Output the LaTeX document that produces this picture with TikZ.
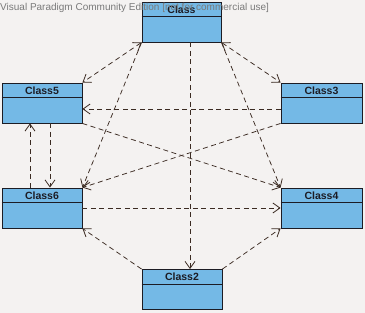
\documentclass[tikz,border=0pt]{standalone}
\usepackage{fontspec}
\setmainfont{Liberation Sans}
\usetikzlibrary{arrows.meta}
\definecolor{bg}{HTML}{F4F2F1}
\definecolor{boxfill}{HTML}{74B9E6}
\definecolor{boxline}{HTML}{1C1C24}
\definecolor{lnc}{HTML}{3B2B22}
\definecolor{wm}{HTML}{7A7A7A}
\tikzset{
  classbox/.style={draw=boxline, fill=boxfill, line width=0.9pt, inner sep=0pt, minimum height=40pt},
  classlabel/.style={font=\fontsize{10.5}{12}\selectfont\bfseries, text=boxline, inner sep=0pt},
  divider/.style={draw=boxline, line width=0.9pt},
  tipv/.tip={Straight Barb[length=7pt,width=10pt,line width=0.8pt]},
  dep/.style={draw=lnc, line width=0.75pt, dash pattern=on 5pt off 3.5pt, -tipv},
  depb/.style={draw=lnc, line width=0.75pt, dash pattern=on 5pt off 3.5pt, tipv-tipv},
}
\newcommand{\umlcls}[5]{%
  \node[classbox, minimum width=#4] (#1) at (#2,#3) {};
  \draw[divider] ([yshift=-15pt]#1.north west) -- ([yshift=-15pt]#1.north east);
  \node[classlabel] (#1l) at ([yshift=-8pt]#1.north) {#5};
}
\begin{document}
\begin{tikzpicture}[x=1pt,y=-1pt]
\useasboundingbox[fill=bg] (0,0) rectangle (365,313);
\umlcls{c}{181.5}{22}{79pt}{Class}
\umlcls{cf}{42}{103}{80pt}{Class5}
\umlcls{cs}{42}{208}{80pt}{Class6}
\umlcls{ct}{321.5}{103}{81pt}{Class3}
\umlcls{cv}{321.5}{208}{81pt}{Class4}
\umlcls{cw}{182}{289.5}{80pt}{Class2}
% connectors
\draw[depb] (c.south west) -- (cf.north east);
\draw[depb] (c.south east) -- (ct.north west);
\draw[dep] ([xshift=8.5pt]c.south) -- ([xshift=8pt]cw.north);
\draw[dep] (c.south west) -- (cs.north east);
\draw[dep] (c.south east) -- (cv.north west);
\draw[dep] ([yshift=-6pt]ct.west) -- ([yshift=-6pt]cf.east);
\draw[dep] (cf.south east) -- (cv.north west);
\draw[dep] (ct.south west) -- (cs.north east);
\draw[dep] (cs.east) -- (cv.west);
\draw[dep] ([xshift=-12pt]cs.north) -- ([xshift=-12pt]cf.south);
\draw[dep] ([xshift=8pt]cf.south) -- ([xshift=8pt]cs.north);
\draw[dep] (cw.north west) -- (cs.south east);
\draw[dep] (cw.north east) -- (cv.south west);
% watermark
\node[anchor=west, text=wm, font=\fontsize{10}{12}\selectfont, inner sep=0pt] (wmk) at (0,7.5) {Visual Paradigm Community Edition [not for commercial use]};
\end{tikzpicture}
\end{document}
